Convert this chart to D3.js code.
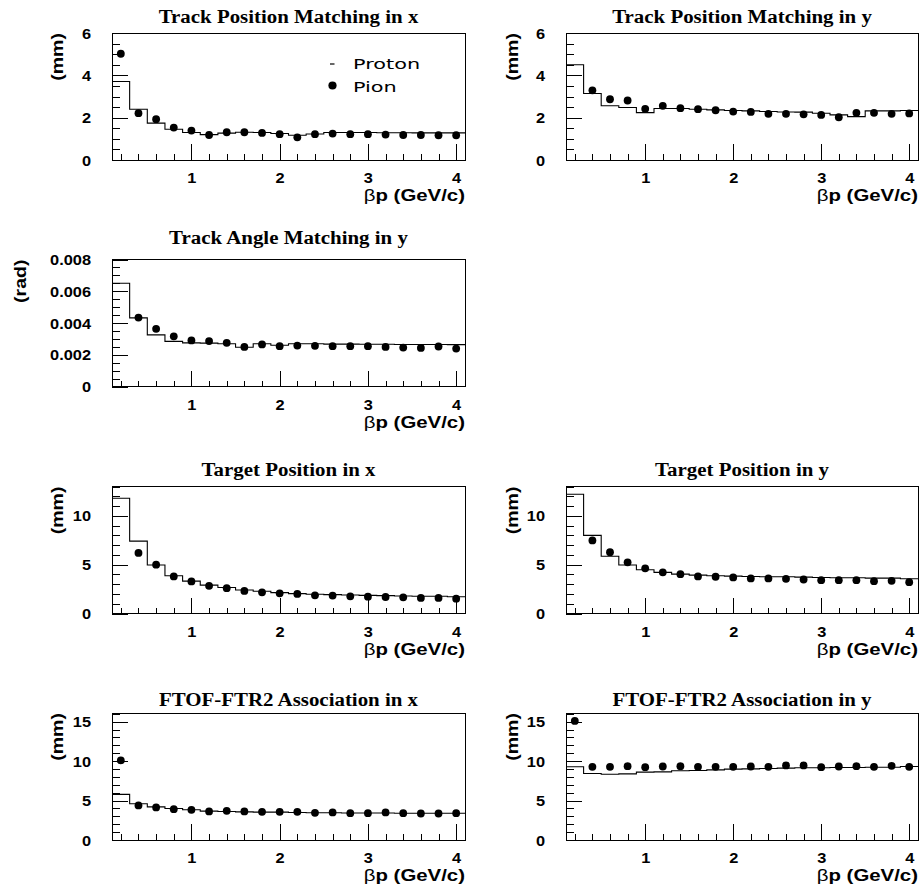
<!DOCTYPE html>
<html>
<head>
<meta charset="utf-8">
<script src="https://cdn.jsdelivr.net/npm/d3@7"></script>
<style>
  html, body { margin: 0; padding: 0; background: #fff; }
  svg { display: block; }
</style>
</head>
<body>
<script>
// ---------------- DATA ----------------
const binEdges = [0.1, 0.3, 0.5, 0.7, 0.9, 1.1, 1.3, 1.5, 1.7, 1.9, 2.1, 2.3, 2.5, 2.7, 2.9, 3.1, 3.3, 3.5, 3.7, 3.9, 4.1];
const binCenters = [0.2, 0.4, 0.6, 0.8, 1.0, 1.2, 1.4, 1.6, 1.8, 2.0, 2.2, 2.4, 2.6, 2.8, 3.0, 3.2, 3.4, 3.6, 3.8, 4.0];
const xMajorTicks = [1, 2, 3, 4];

const protonTrackPosX = [3.71, 2.40, 1.74, 1.45, 1.30, 1.20, 1.27, 1.31, 1.30, 1.25, 1.17, 1.23, 1.30, 1.30, 1.30, 1.29, 1.29, 1.28, 1.28, 1.28];
const pionTrackPosX   = [5.02, 2.21, 1.93, 1.53, 1.39, 1.18, 1.31, 1.31, 1.28, 1.22, 1.07, 1.22, 1.25, 1.22, 1.22, 1.20, 1.18, 1.18, 1.17, 1.17];

const protonTrackPosY = [4.50, 3.14, 2.56, 2.48, 2.24, 2.43, 2.43, 2.40, 2.37, 2.34, 2.32, 2.29, 2.27, 2.26, 2.21, 2.13, 2.05, 2.32, 2.32, 2.34];
const pionTrackPosY   = [null, 3.29, 2.87, 2.81, 2.42, 2.56, 2.45, 2.40, 2.35, 2.29, 2.27, 2.18, 2.18, 2.16, 2.13, 2.02, 2.23, 2.23, 2.18, 2.20];

const protonTrackAngY = [0.00650, 0.00432, 0.00325, 0.00284, 0.00275, 0.00273, 0.00269, 0.00247, 0.00269, 0.00260, 0.00269, 0.00269, 0.00267, 0.00267, 0.00266, 0.00266, 0.00265, 0.00265, 0.00265, 0.00264];
const pionTrackAngY   = [null, 0.00434, 0.00363, 0.00316, 0.00290, 0.00286, 0.00275, 0.00249, 0.00265, 0.00254, 0.00258, 0.00256, 0.00254, 0.00254, 0.00254, 0.00249, 0.00245, 0.00243, 0.00252, 0.00239];

const protonTargetX = [11.8, 7.41, 4.97, 3.86, 3.31, 2.90, 2.66, 2.41, 2.28, 2.14, 2.03, 1.97, 1.93, 1.90, 1.86, 1.83, 1.79, 1.76, 1.76, 1.72];
const pionTargetX   = [null, 6.20, 5.00, 3.79, 3.28, 2.83, 2.59, 2.31, 2.17, 2.07, 2.00, 1.86, 1.83, 1.76, 1.72, 1.69, 1.66, 1.59, 1.59, 1.52];

const protonTargetY = [12.2, 8.00, 5.86, 4.97, 4.48, 4.21, 4.03, 3.93, 3.86, 3.83, 3.79, 3.76, 3.76, 3.72, 3.69, 3.66, 3.66, 3.62, 3.62, 3.55];
const pionTargetY   = [null, 7.48, 6.28, 5.24, 4.62, 4.21, 4.03, 3.79, 3.76, 3.69, 3.59, 3.59, 3.55, 3.48, 3.41, 3.41, 3.41, 3.31, 3.34, 3.21];

const protonFtofX = [5.79, 4.60, 4.20, 4.00, 3.83, 3.66, 3.62, 3.57, 3.53, 3.53, 3.49, 3.45, 3.45, 3.42, 3.42, 3.42, 3.40, 3.40, 3.40, 3.40];
const pionFtofX   = [10.09, 4.38, 4.13, 3.91, 3.83, 3.62, 3.70, 3.62, 3.57, 3.57, 3.57, 3.45, 3.49, 3.40, 3.40, 3.49, 3.40, 3.36, 3.36, 3.40];

const protonFtofY = [9.28, 8.43, 8.34, 8.38, 8.60, 8.64, 8.77, 8.81, 8.89, 8.98, 9.02, 9.06, 9.11, 9.15, 9.15, 9.19, 9.19, 9.23, 9.23, 9.32];
const pionFtofY   = [15.1, 9.28, 9.28, 9.36, 9.23, 9.32, 9.36, 9.28, 9.28, 9.28, 9.32, 9.28, 9.45, 9.45, 9.23, 9.32, 9.36, 9.28, 9.40, 9.28];

const panelTitles = ["Track Position Matching in x", "Track Position Matching in y", "Track Angle Matching in y",
                     "Target Position in x", "Target Position in y", "FTOF-FTR2 Association in x", "FTOF-FTR2 Association in y"];
const legendLabels = ["Proton", "Pion"];

// ---------------- LAYOUT ----------------
const W = 922, H = 890;
const cols = [[112, 465], [566, 918]];
const rowTop = [33, 259.5, 486.5, 713];
const titleBase = [23, 244, 476, 706];
const frameH = 127;

const fmtInt = d => String(d);
const fmtRad = d => d === 0 ? "0" : d.toFixed(3);

const panels = [
  {t: 0, col: 0, row: 0, yTitle: "(mm)",  yTitleX: 63,  yMax: 6,     yMajor: [0, 2, 4, 6], yMinor: 0.5, fmt: fmtInt, proton: protonTrackPosX, pion: pionTrackPosX, legend: true},
  {t: 1, col: 1, row: 0, yTitle: "(mm)",  yTitleX: 518, yMax: 6,     yMajor: [0, 2, 4, 6], yMinor: 0.5, fmt: fmtInt, proton: protonTrackPosY, pion: pionTrackPosY},
  {t: 2, col: 0, row: 1, yTitle: "(rad)", yTitleX: 26,  yMax: 0.008, yMajor: [0, 0.002, 0.004, 0.006, 0.008], yMinor: 0.0005, fmt: fmtRad, proton: protonTrackAngY, pion: pionTrackAngY},
  {t: 3, col: 0, row: 2, yTitle: "(mm)",  yTitleX: 63,  yMax: 13,    yMajor: [0, 5, 10], yMinor: 1, fmt: fmtInt, proton: protonTargetX, pion: pionTargetX},
  {t: 4, col: 1, row: 2, yTitle: "(mm)",  yTitleX: 518, yMax: 13,    yMajor: [0, 5, 10], yMinor: 1, fmt: fmtInt, proton: protonTargetY, pion: pionTargetY},
  {t: 5, col: 0, row: 3, yTitle: "(mm)",  yTitleX: 63,  yMax: 16.1,  yMajor: [0, 5, 10, 15], yMinor: 1, fmt: fmtInt, proton: protonFtofX, pion: pionFtofX},
  {t: 6, col: 1, row: 3, yTitle: "(mm)",  yTitleX: 518, yMax: 16.1,  yMajor: [0, 5, 10, 15], yMinor: 1, fmt: fmtInt, proton: protonFtofY, pion: pionFtofY},
];

const svg = d3.select("body").append("svg").attr("width", W).attr("height", H);
svg.append("rect").attr("width", W).attr("height", H).attr("fill", "#fff");

function stretchText(sel, sx) {
  sel.each(function () {
    const t = d3.select(this);
    const x = +t.attr("x") || 0, y = +t.attr("y") || 0;
    t.attr("x", 0).attr("y", 0).attr("transform", `translate(${x},${y}) scale(${sx},1)`);
  });
}

panels.forEach(p => {
  const [x0, x1] = cols[p.col];
  const y0 = rowTop[p.row], y1 = y0 + frameH;
  const x = d3.scaleLinear().domain([0.1, 4.1]).range([x0, x1]);
  const y = d3.scaleLinear().domain([0, p.yMax]).range([y1, y0]);
  const g = svg.append("g");

  // title
  g.append("text")
    .attr("transform", `translate(${(x0 + x1) / 2},${titleBase[p.row]}) scale(1.1,1)`)
    .attr("text-anchor", "middle")
    .attr("font-family", "'Liberation Serif', 'Times New Roman', serif")
    .attr("font-weight", "bold").attr("font-size", 19)
    .text(panelTitles[p.t]);

  // x axis major
  const xMinorVals = binCenters.filter(v => !xMajorTicks.includes(v));
  const gxMaj = g.append("g").attr("transform", `translate(0,${y1})`)
    .call(d3.axisBottom(x).tickValues(xMajorTicks).tickSizeInner(-16).tickSizeOuter(0).tickPadding(13.5).tickFormat(d3.format("d")));
  gxMaj.select(".domain").remove();
  gxMaj.selectAll("line").attr("stroke", "#000").attr("shape-rendering", "crispEdges");
  gxMaj.selectAll("text").attr("font-family", "'Liberation Sans', Arial, sans-serif").attr("font-weight", "bold").attr("font-size", 14).attr("fill", "#000");
  stretchText(gxMaj.selectAll("text"), 1.17);
  const gxMin = g.append("g").attr("transform", `translate(0,${y1})`)
    .call(d3.axisBottom(x).tickValues(xMinorVals).tickSizeInner(-6).tickSizeOuter(0).tickFormat(""));
  gxMin.select(".domain").remove();
  gxMin.selectAll("line").attr("stroke", "#000").attr("shape-rendering", "crispEdges");

  // y axis
  const gyMaj = g.append("g").attr("transform", `translate(${x0},0)`)
    .call(d3.axisLeft(y).tickValues(p.yMajor).tickSizeInner(-16).tickSizeOuter(0).tickPadding(21).tickFormat(p.fmt));
  gyMaj.select(".domain").remove();
  gyMaj.selectAll("line").attr("stroke", "#000").attr("shape-rendering", "crispEdges");
  gyMaj.selectAll("text").attr("font-family", "'Liberation Sans', Arial, sans-serif").attr("font-weight", "bold").attr("font-size", 14).attr("fill", "#000").attr("dy", "0.36em");
  stretchText(gyMaj.selectAll("text"), 1.17);
  const yMinorVals = d3.range(0, p.yMax + 1e-9, p.yMinor).filter(v => !p.yMajor.some(m => Math.abs(m - v) < 1e-9));
  const gyMin = g.append("g").attr("transform", `translate(${x0},0)`)
    .call(d3.axisLeft(y).tickValues(yMinorVals).tickSizeInner(-8).tickSizeOuter(0).tickFormat(""));
  gyMin.select(".domain").remove();
  gyMin.selectAll("line").attr("stroke", "#000").attr("shape-rendering", "crispEdges");

  // axis titles
  const xt = g.append("text")
    .attr("transform", `translate(${x1},${y1 + 41}) scale(1.2,1)`)
    .attr("text-anchor", "end")
    .attr("font-family", "'Liberation Sans', Arial, sans-serif")
    .attr("font-weight", "bold").attr("font-size", 17);
  xt.append("tspan").attr("font-weight", "normal").text("β");
  xt.append("tspan").text("p (GeV/c)");

  g.append("text")
    .attr("transform", `translate(${p.yTitleX},${y0}) rotate(-90) scale(1.15,1)`)
    .attr("text-anchor", "end")
    .attr("font-family", "'Liberation Sans', Arial, sans-serif")
    .attr("font-weight", "bold").attr("font-size", 17)
    .text(p.yTitle);

  // proton histogram (step)
  const pts = p.proton.map((v, i) => [binEdges[i], v]);
  pts.push([binEdges[binEdges.length - 1], p.proton[p.proton.length - 1]]);
  const line = d3.line().x(d => x(d[0])).y(d => y(d[1])).curve(d3.curveStepAfter);
  g.append("path").attr("d", line(pts)).attr("fill", "none").attr("stroke", "#000").attr("stroke-width", 1.1);

  // pion points
  g.selectAll("circle.pion").data(p.pion.map((v, i) => [binCenters[i], v]).filter(d => d[1] !== null))
    .enter().append("circle").attr("class", "pion")
    .attr("cx", d => x(d[0])).attr("cy", d => y(d[1])).attr("r", 3.9).attr("fill", "#000");

  // frame
  g.append("rect").attr("x", x0).attr("y", y0).attr("width", x1 - x0).attr("height", frameH)
    .attr("fill", "none").attr("stroke", "#000").attr("stroke-width", 1).attr("shape-rendering", "crispEdges");

  // legend
  if (p.legend) {
    const lg = g.append("g");
    lg.append("line").attr("x1", 330).attr("x2", 334.5).attr("y1", 64).attr("y2", 64).attr("stroke", "#000").attr("stroke-width", 1.2);
    lg.append("circle").attr("cx", 332.5).attr("cy", 85.5).attr("r", 4.1).attr("fill", "#000");
    lg.selectAll("text").data(legendLabels).enter().append("text")
      .attr("transform", (d, i) => `translate(353,${i === 0 ? 68.7 : 92.3}) scale(1.52,1)`)
      .attr("font-family", "'DejaVu Sans', sans-serif").attr("font-size", 13.7).attr("fill", "#000")
      .text(d => d);
  }
});
</script>
</body>
</html>
